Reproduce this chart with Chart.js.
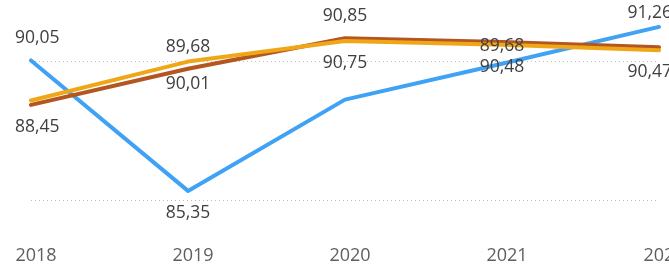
<!DOCTYPE html>
<html><head><meta charset="utf-8">
<script src="https://cdn.jsdelivr.net/npm/chart.js@4.4.1/dist/chart.umd.min.js"></script>
<style>
html,body{margin:0;padding:0;background:#fff;overflow:hidden;width:669px;height:264px}
#wrap{position:relative;width:669px;height:264px;overflow:hidden}
</style></head>
<body><div id="wrap"><canvas id="c" width="690" height="271"></canvas></div>
<script>
// ---- data ----
const years = ['2018', '2019', '2020', '2021', '2022'];
const blueValues  = [90.05, 85.35, 88.64, 89.93, 91.26];
const brownValues = [88.45, 89.75, 90.85, 90.72, 90.53];
const goldValues  = [88.61, 90.01, 90.75, 90.62, 90.42];
// printed data labels (as shown in the picture; null = hidden)
const blueLabels  = [90.05, 85.35, null, null, 91.26];
const brownLabels = [88.45, 89.68, 90.85, 89.68, null];
const goldLabels  = [null, 90.01, 90.75, 90.48, 90.47];
const gridValues = [85, 90];

// ---- label placement (style) ----
const bluePlace  = ['above', 'below', null, null, 'above'];
const brownPlace = ['below', 'above', 'above', 'on', null];
const goldPlace  = [null, 'below', 'below', 'below', 'below'];

const FONT = "'Open Sans', 'Noto Sans', sans-serif";

const labelPlugin = {
  id: 'pointLabels',
  afterDatasetsDraw(chart) {
    const ctx = chart.ctx;
    ctx.save();
    ctx.font = '17.5px ' + FONT;
    ctx.fillStyle = '#404040';
    ctx.textAlign = 'center';
    ctx.textBaseline = 'middle';
    chart.data.datasets.forEach((ds, di) => {
      const meta = chart.getDatasetMeta(di);
      ds.pointLabels.forEach((v, i) => {
        if (v === null) return;
        const pt = meta.data[i];
        const txt = v.toFixed(2).replace('.', ',');
        const w = ctx.measureText(txt).width;
        const place = ds.labelPlace[i];
        let y = pt.y + (place === 'above' ? -22 : place === 'below' ? 22 : 4);
        y = Math.max(y, 13.5);
        let x = pt.x;
        x = Math.max(x, 15 + w / 2);
        x = Math.min(x, 672 - w / 2);
        ctx.fillText(txt, x, y);
      });
    });
    ctx.restore();
  }
};

new Chart(document.getElementById('c'), {
  type: 'line',
  data: {
    labels: years,
    datasets: [
      { data: goldValues, borderColor: '#EFA718', pointLabels: goldLabels, labelPlace: goldPlace, order: 1 },
      { data: brownValues, borderColor: '#B3561F', pointLabels: brownLabels, labelPlace: brownPlace, order: 2 },
      { data: blueValues, borderColor: '#3FA2F5', pointLabels: blueLabels, labelPlace: bluePlace, order: 3 }
    ].map(d => Object.assign({
      borderWidth: 4, pointRadius: 0, tension: 0, fill: false,
      borderJoinStyle: 'round', borderCapStyle: 'round'
    }, d))
  },
  options: {
    responsive: false,
    animation: false,
    devicePixelRatio: 1,
    layout: { padding: { left: 31, right: 31, top: 0, bottom: 0 } },
    plugins: { legend: { display: false }, tooltip: { enabled: false } },
    scales: {
      x: {
        grid: { display: false, drawTicks: false },
        border: { display: false },
        ticks: {
          font: { family: FONT, size: 18 }, color: '#605E5C',
          padding: 4, labelOffset: 5, maxRotation: 0, autoSkip: false
        }
      },
      y: {
        min: 83.53, max: 92.23,
        afterBuildTicks: (axis) => { axis.ticks = gridValues.map(v => ({ value: v })); },
        ticks: { display: false },
        grid: { color: '#bdbdbd', lineWidth: 1, drawTicks: false },
        border: { display: false, dash: [1, 3] }
      }
    }
  },
  plugins: [labelPlugin]
});
</script>
</body></html>
